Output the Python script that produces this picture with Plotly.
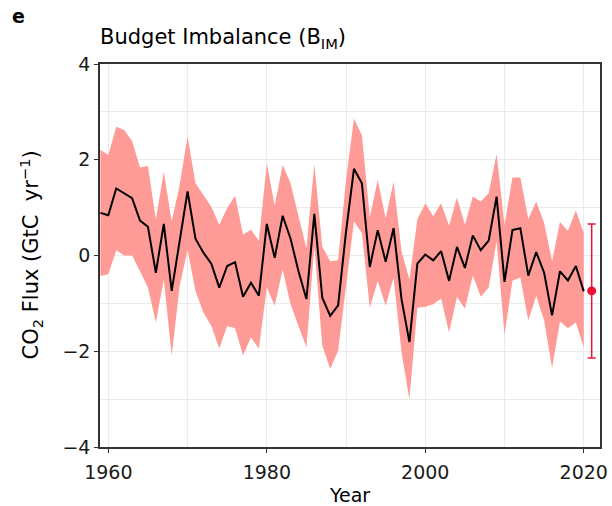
import plotly.graph_objs as go

# budget imbalance, GtC/yr, with +/- 1 sigma band
years = list(range(1959, 2021))

b_im = [0.89, 0.84, 1.40, 1.30, 1.20, 0.73, 0.60, -0.36, 0.66, -0.74,
        0.35, 1.34, 0.35, 0.06, -0.17, -0.67, -0.22, -0.14, -0.86, -0.57,
        -0.84, 0.66, -0.05, 0.83, 0.35, -0.33, -0.91, 0.87, -0.88, -1.26,
        -1.04, 0.50, 1.81, 1.51, -0.24, 0.53, -0.13, 0.57, -0.91, -1.81,
        -0.17, 0.02, -0.10, 0.09, -0.53, 0.18, -0.26, 0.42, 0.11, 0.31,
        1.23, -0.55, 0.53, 0.57, -0.42, 0.07, -0.36, -1.25, -0.33, -0.52,
        -0.22, -0.75]

b_im_upper = [2.21, 2.10, 2.69, 2.62, 2.39, 1.84, 1.87, 0.75, 1.75, 0.71,
              1.47, 2.49, 1.51, 1.27, 1.02, 0.64, 0.99, 1.25, 0.44, 0.54,
              0.31, 1.92, 1.04, 1.89, 1.51, 0.82, 0.15, 1.91, 0.19, -0.12,
              -0.10, 1.58, 2.86, 2.51, 0.80, 1.58, 0.78, 1.54, 0.09, -0.50,
              0.75, 1.09, 0.82, 1.09, 0.62, 1.21, 0.64, 1.23, 1.13, 1.30,
              2.12, 0.64, 1.63, 1.63, 0.76, 1.13, 0.68, -0.12, 0.70, 0.51,
              0.94, 0.47]

b_im_lower = [-0.43, -0.39, 0.11, 0.00, 0.00, -0.33, -0.67, -1.40, -0.50, -2.09,
              -0.64, 0.12, -0.74, -1.19, -1.47, -1.94, -1.47, -1.52, -2.09, -1.71,
              -1.95, -0.67, -1.05, -0.29, -1.02, -1.47, -1.92, 0.19, -1.88, -2.37,
              -1.99, -0.64, 0.71, 0.47, -1.09, -0.53, -1.05, -0.46, -2.02, -3.00,
              -1.09, -1.07, -1.02, -0.90, -1.61, -0.86, -1.11, -0.42, -0.86, -0.67,
              0.30, -1.66, -0.53, -0.46, -1.36, -0.84, -1.36, -2.35, -1.38, -1.52,
              -1.40, -1.92]

# projection point
proj_year = [2021]
proj_value = [-0.74]
proj_err = [1.40]

font_family = 'DejaVu Sans, sans-serif'

traces = []

traces.append(go.Scatter(x=years + years[::-1],
                         y=b_im_upper + b_im_lower[::-1],
                         fill='toself',
                         fillcolor='rgba(255,155,150,1)',
                         line=dict(width=0),
                         mode='lines',
                         hoverinfo='skip',
                         showlegend=False
                         )
              )

traces.append(go.Scatter(x=years,
                         y=b_im,
                         mode='lines',
                         line=dict(width=2, color='black'),
                         showlegend=False
                         )
              )

traces.append(go.Scatter(x=proj_year,
                         y=proj_value,
                         mode='markers',
                         marker=dict(size=9, color='#EE1133'),
                         error_y=dict(type='data', array=proj_err, color='#EE1133',
                                      thickness=1.5, width=4),
                         showlegend=False
                         )
              )

fig = go.Figure(data=traces)

axis_style = dict(showline=True,
                  linecolor='#333333',
                  linewidth=1.5,
                  mirror=True,
                  ticks='outside',
                  ticklen=4,
                  tickcolor='#333333',
                  showgrid=True,
                  gridcolor='#EBEBEB',
                  gridwidth=1,
                  zeroline=False,
                  automargin=False,
                  tickfont=dict(size=19, color='#1a1a1a', family=font_family),
                  )

fig.update_xaxes(range=[1958.95, 2022.05],
                 tickvals=[1960, 1980, 2000, 2020],
                 ticklabelstandoff=3,
                 minor=dict(tickvals=[1970, 1990, 2010], showgrid=True,
                            gridcolor='#EBEBEB', ticks=''),
                 title=dict(text='Year', font=dict(size=19, color='black', family=font_family),
                            standoff=8),
                 **axis_style)

fig.update_yaxes(range=[-4, 4],
                 tickvals=[-4, -2, 0, 2, 4],
                 minor=dict(tickvals=[-3, -1, 1, 3], showgrid=True,
                            gridcolor='#EBEBEB', ticks=''),
                 **axis_style)

fig.update_layout(width=612,
                  height=506,
                  plot_bgcolor='white',
                  paper_bgcolor='white',
                  margin=dict(l=100, r=12, t=64, b=59, autoexpand=False),
                  font=dict(family=font_family),
                  title=dict(text='Budget Imbalance (B<sub>IM</sub>)',
                             x=100 / 612, xanchor='left',
                             y=1 - 37 / 506, yanchor='middle',
                             font=dict(size=21, color='black', family=font_family)),
                  annotations=[dict(text='<b>e</b>', x=0, y=1, xref='paper', yref='paper',
                                    xanchor='left', yanchor='middle',
                                    xshift=-90, yshift=48, showarrow=False,
                                    font=dict(size=19, color='black', family=font_family)),
                               dict(text='CO<sub>2</sub> Flux (GtC  yr<sup>−1</sup>)',
                                    x=0, y=0.5, xref='paper', yref='paper',
                                    xanchor='center', yanchor='middle', textangle=-90,
                                    xshift=-70, showarrow=False,
                                    font=dict(size=21, color='black', family=font_family))]
                  )

fig.write_html("out.html", config={'displayModeBar': False},
               post_script="document.body.style.margin='0px';")
